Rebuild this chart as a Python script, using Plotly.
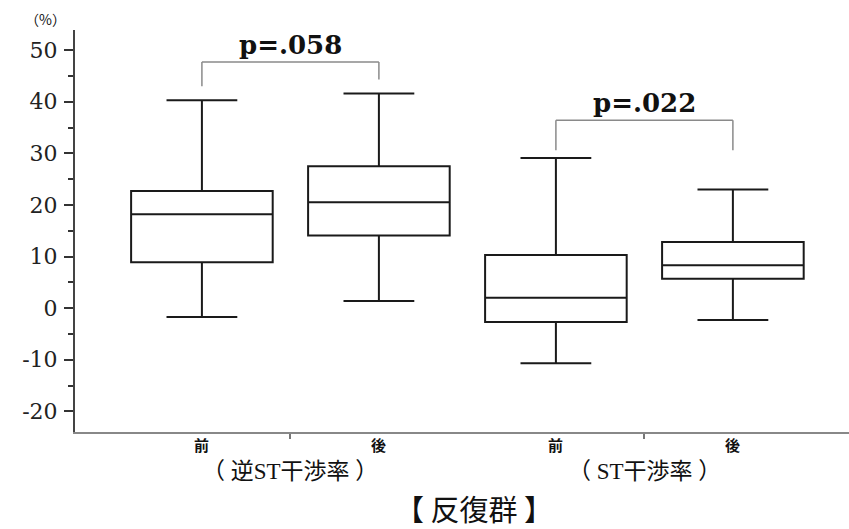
import plotly.graph_objects as go

# Box statistics per condition (percent)
positions = [0, 1, 2, 3]
phase_labels = ["前", "後", "前", "後"]
group_labels = ["（ 逆ST干渉率 ）", "（ ST干渉率 ）"]
group_centers = [0.5, 2.5]
upper_whisker = [40.3, 41.6, 29.1, 23.0]
q3_values = [22.7, 27.5, 10.3, 12.8]
median_values = [18.2, 20.5, 2.0, 8.3]
q1_values = [8.9, 14.1, -2.7, 5.7]
lower_whisker = [-1.7, 1.4, -10.7, -2.3]
p_labels = ["p=.058", "p=.022"]
title_text = "【 反復群 】"
y_ticks = [-20, -10, 0, 10, 20, 30, 40, 50]
y_tick_text = ["-20", "-10", "0", "10", "20", "30", "40", "50"]

fig = go.Figure()

for i, pos in enumerate(positions):
    fig.add_trace(go.Box(
        x=[pos],
        q1=[q1_values[i]],
        median=[median_values[i]],
        q3=[q3_values[i]],
        lowerfence=[lower_whisker[i]],
        upperfence=[upper_whisker[i]],
        width=0.8,
        whiskerwidth=0.5,
        fillcolor="white",
        line=dict(color="#1a1a1a", width=2),
        boxpoints=False,
        showlegend=False,
        hoverinfo="skip",
    ))

# Significance brackets: (left x, right x, bar y, left leg end, right leg end)
brackets = [
    (0, 1, 47.7, 43.0, 44.3),
    (2, 3, 36.4, 30.6, 30.6),
]
bracket_line = dict(color="#8a8a8a", width=1.5)
for (xl, xr, yb, yl, yr), label in zip(brackets, p_labels):
    fig.add_shape(type="line", x0=xl, x1=xr, y0=yb, y1=yb, line=bracket_line)
    fig.add_shape(type="line", x0=xl, x1=xl, y0=yb, y1=yl, line=bracket_line)
    fig.add_shape(type="line", x0=xr, x1=xr, y0=yb, y1=yr, line=bracket_line)
    fig.add_annotation(
        x=(xl + xr) / 2, y=yb, xref="x", yref="y",
        text=f"<b>{label}</b>", showarrow=False,
        yanchor="bottom", yshift=0,
        font=dict(family="DejaVu Serif", size=26, color="#111"),
    )

cjk_font = "Liberation Serif, Noto Sans CJK JP"

# Before / after labels under each box
for pos, lab in zip(positions, phase_labels):
    fig.add_annotation(
        x=pos, y=0, xref="x", yref="paper", text=f"<b>{lab}</b>",
        showarrow=False, yanchor="middle", yshift=-12,
        font=dict(family="Noto Sans CJK JP", size=15, color="#111"),
    )

# Group labels
for cx, lab in zip(group_centers, group_labels):
    fig.add_annotation(
        x=cx, y=0, xref="x", yref="paper", text=lab,
        showarrow=False, yanchor="middle", yshift=-39,
        font=dict(family=cjk_font, size=23, color="#111"),
    )

# Overall title below the axis
fig.add_annotation(
    x=1.54, y=0, xref="x", yref="paper", text=title_text,
    showarrow=False, yanchor="middle", yshift=-76,
    font=dict(family="Noto Sans CJK JP", size=29, color="#111"),
)

# Unit label above the y axis
fig.add_annotation(
    x=0, y=1, xref="paper", yref="paper", text="（%）",
    showarrow=False, xanchor="center", yanchor="middle",
    xshift=-30, yshift=11,
    font=dict(family="Noto Sans CJK JP", size=14, color="#111"),
)

fig.update_layout(
    width=849, height=529,
    margin=dict(l=75, r=0, t=30, b=97),
    paper_bgcolor="white", plot_bgcolor="white",
    xaxis=dict(
        range=[-0.717, 3.656],
        tickvals=group_centers, ticktext=["", ""],
        ticks="outside", ticklen=5, tickwidth=1.5, tickcolor="#777",
        showline=True, linecolor="#888", linewidth=2,
        showgrid=False, zeroline=False, fixedrange=True,
    ),
    yaxis=dict(
        range=[-24.0, 53.9],
        tickvals=y_ticks, ticktext=y_tick_text,
        ticks="outside", ticklen=9, tickwidth=1.5, tickcolor="#333",
        minor=dict(dtick=5, tick0=0, ticks="outside", ticklen=5,
                   tickwidth=1.5, tickcolor="#333"),
        showline=True, linecolor="#444", linewidth=2,
        showgrid=False, zeroline=False,
        tickfont=dict(family="DejaVu Serif", size=22, color="#222"),
        ticklabelstandoff=2,
    ),
)

fig.write_html("out.html")
